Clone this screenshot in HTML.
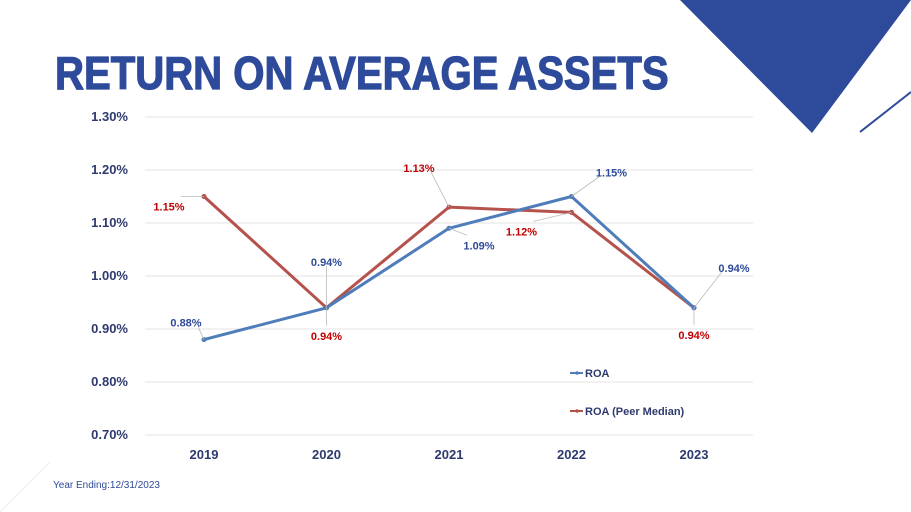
<!DOCTYPE html>
<html><head><meta charset="utf-8"><style>
body{margin:0;width:911px;height:512px;overflow:hidden;background:#fff;font-family:"Liberation Sans",sans-serif;position:relative}
#title{position:absolute;left:55px;top:46px;font-family:"Liberation Sans",sans-serif;font-weight:bold;font-size:46px;color:#2E4A9A;transform:scaleX(0.872);transform-origin:left top;white-space:nowrap;-webkit-text-stroke:1.2px #2E4A9A}
#foot{position:absolute;left:53px;top:480px;font-size:10px;color:#2E4A9A}
</style></head><body>
<svg width="911" height="512" style="position:absolute;left:0;top:0">
<polygon points="680,0 911,0 812,133" fill="#2E4A9A"/>
<line x1="860" y1="132" x2="911" y2="92" stroke="#2E4A9A" stroke-width="2"/>
<line x1="0" y1="512" x2="50" y2="462" stroke="#eee" stroke-width="1"/>
</svg>
<div id="title">RETURN ON AVERAGE ASSETS</div>
<svg id="chart" width="911" height="512" style="position:absolute;left:0;top:0"></svg>
<div id="foot">Year Ending:12/31/2023</div>
<script>
const categories=["2019","2020","2021","2022","2023"];
const roa=[0.88,0.94,1.09,1.15,0.94];
const peer=[1.15,0.94,1.13,1.12,0.94];
const yTicks=[0.70,0.80,0.90,1.00,1.10,1.20,1.30];
const NS="http://www.w3.org/2000/svg";
const svg=document.getElementById('chart');
const x=i=>204+i*122.5;
const y=v=>435-(v-0.70)/0.10*53;
function el(t,a,p){const e=document.createElementNS(NS,t);for(const k in a)e.setAttribute(k,a[k]);(p||svg).appendChild(e);return e;}
yTicks.forEach(v=>{
 const g=el('line',{x1:145,x2:753,y1:y(v),y2:y(v),stroke:'#e3e3e3','stroke-width':1});
 
 
 const t=el('text',{x:128,y:y(v)+4,'text-anchor':'end','font-size':13,'font-weight':'bold',fill:'#2E3A6E'});
 t.textContent=v.toFixed(2)+'%';
 
 
});
categories.forEach((c,i)=>{
 const t=el('text',{x:x(i),y:459,'text-anchor':'middle','font-size':13,'font-weight':'bold',fill:'#2E3A6E'});
 t.textContent=c;
 
 
});
function series(vals,color,name){
 const p=el('polyline',{points:vals.map((v,i)=>x(i)+','+y(v)).join(' '),fill:'none',stroke:color,'stroke-width':3,'stroke-linejoin':'round'});
 
 
 vals.forEach((v,i)=>{
  const c=el('circle',{cx:x(i),cy:y(v),r:2.5,fill:color});
  
  
 });
}
series(peer,'#B5524C','peer');
series(roa,'#4F7DB9','roa');
const roaOff=[[-18,-17],[0,-46],[30,17],[40,-24],[40,-40]];
const peerOff=[[-35,10],[0,28],[-30,-39],[-50,19],[0,27]];
function labels(vals,offs,color,name){
 vals.forEach((v,i)=>{
  const px=x(i),py=y(v),lx=px+offs[i][0],ly=py+offs[i][1];
  const l=el('line',{x1:px,y1:py,x2:lx+(offs[i][0]>0?-12:offs[i][0]<0?12:0),y2:ly+(offs[i][1]>0?-10:4),stroke:'#bbb','stroke-width':0.8});
  
  
  const t=el('text',{x:lx,y:ly+4,'text-anchor':'middle','font-size':11,'font-weight':'bold',fill:color});
  t.textContent=v.toFixed(2)+'%';
  
  
 });
}
labels(roa,roaOff,'#2E4A9A','roa');
labels(peer,peerOff,'#C00000','peer');
[['ROA','#4F7DB9',373],['ROA (Peer Median)','#B5524C',411]].forEach(([n,c,ly])=>{
 const l=el('line',{x1:570,x2:583,y1:ly,y2:ly,stroke:c,'stroke-width':2});
 
 
 el('circle',{cx:577,cy:ly,r:1.8,fill:c});
 const t=el('text',{x:585,y:ly+4,'font-size':11,'font-weight':'bold',fill:'#2E3A6E'});
 t.textContent=n;
 
 
});
</script>
</body></html>
